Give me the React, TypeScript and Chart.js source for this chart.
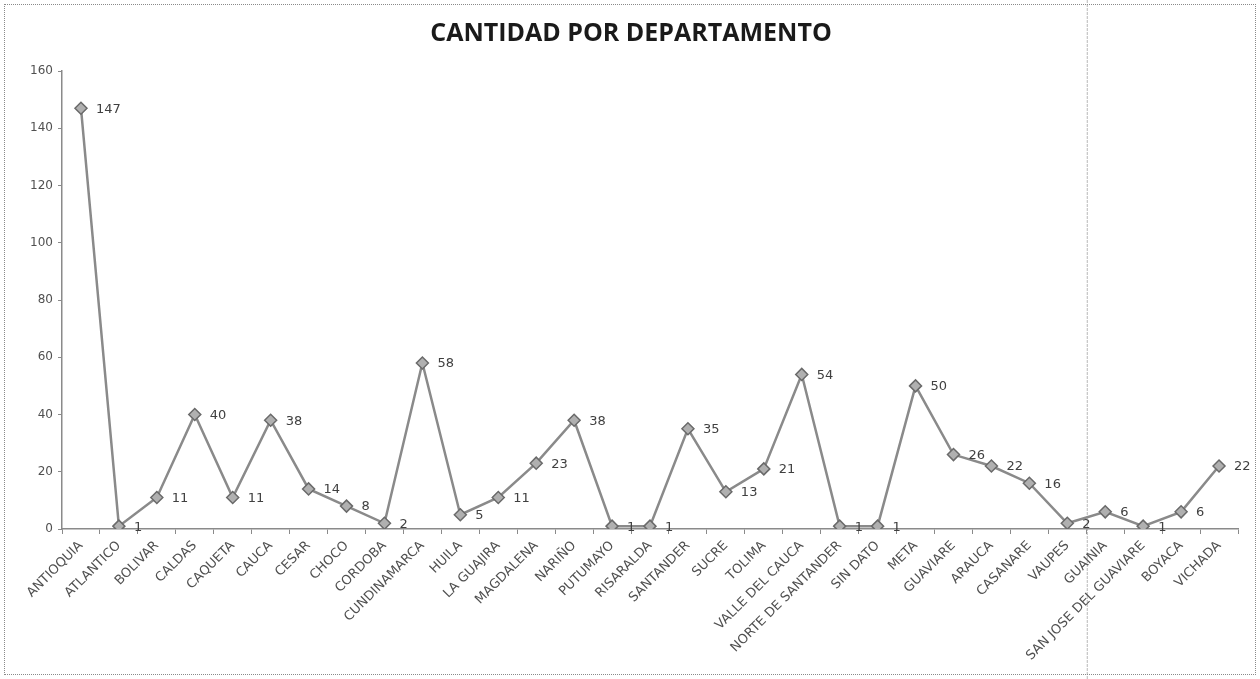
import React, { useEffect, useRef } from "react";
import { Chart, registerables } from "chart.js";

Chart.register(...registerables);

const categories = [
  "ANTIOQUIA", "ATLANTICO", "BOLIVAR", "CALDAS", "CAQUETA", "CAUCA", "CESAR", "CHOCO",
  "CORDOBA", "CUNDINAMARCA", "HUILA", "LA GUAJIRA", "MAGDALENA", "NARIÑO", "PUTUMAYO",
  "RISARALDA", "SANTANDER", "SUCRE", "TOLIMA", "VALLE DEL CAUCA", "NORTE DE SANTANDER",
  "SIN DATO", "META", "GUAVIARE", "ARAUCA", "CASANARE", "VAUPES", "GUAINIA",
  "SAN JOSE DEL GUAVIARE", "BOYACA", "VICHADA",
];
const values = [
  147, 1, 11, 40, 11, 38, 14, 8, 2, 58, 5, 11, 23, 38, 1, 1, 35, 13, 21, 54, 1, 1, 50, 26,
  22, 16, 2, 6, 1, 6, 22,
];
const yTicks = [0, 20, 40, 60, 80, 100, 120, 140, 160];
const titleText = "CANTIDAD POR DEPARTAMENTO";

const valueLabels = {
  id: "valueLabels",
  afterDatasetsDraw(chart: any) {
    const ctx = chart.ctx;
    const meta = chart.getDatasetMeta(0);
    ctx.save();
    ctx.font = "13px 'DejaVu Sans'";
    ctx.fillStyle = "#404040";
    ctx.textAlign = "left";
    ctx.textBaseline = "middle";
    meta.data.forEach((pt: any, i: number) => {
      ctx.fillText(String(values[i]), pt.x + 15, pt.y + 1);
    });
    ctx.restore();
  },
};

const scanLine = {
  id: "scanLine",
  beforeDraw(chart: any) {
    const x = chart.scales.x;
    const px = (x.getPixelForValue(26) + x.getPixelForValue(27)) / 2 + 1;
    const ctx = chart.ctx;
    ctx.save();
    ctx.strokeStyle = "#b8b8b8";
    ctx.lineWidth = 1;
    ctx.setLineDash([3, 1]);
    ctx.beginPath();
    ctx.moveTo(px, 0);
    ctx.lineTo(px, chart.height);
    ctx.stroke();
    ctx.restore();
  },
};

export default function App() {
  const ref = useRef<HTMLCanvasElement>(null);
  useEffect(() => {
    if (!ref.current) return;
    const chart = new Chart(ref.current, {
      type: "line",
      data: {
        labels: categories,
        datasets: [
          {
            data: values,
            borderColor: "#8a8a8a",
            borderWidth: 2.5,
            pointStyle: "rectRot",
            pointRadius: 6,
            pointBackgroundColor: "#b0b0b0",
            pointBorderColor: "#6a6a6a",
            pointBorderWidth: 1.5,
            tension: 0,
          },
        ],
      },
      options: {
        animation: false,
        responsive: false,
        layout: { padding: { left: 24, right: 22, top: 0, bottom: 0 } },
        plugins: {
          legend: { display: false },
          tooltip: { enabled: false },
          title: {
            display: true,
            text: titleText,
            color: "#1a1a1a",
            font: { family: "'Open Sans'", size: 25, weight: "bold" },
            padding: { top: 19, bottom: 22 },
          },
        },
        scales: {
          x: {
            offset: true,
            grid: {
              display: true,
              drawOnChartArea: false,
              drawTicks: true,
              tickLength: 5,
              color: "#8a8a8a",
              offset: true,
            },
            border: { display: true, color: "#8a8a8a", width: 1.5 },
            ticks: {
              autoSkip: false,
              maxRotation: 45,
              minRotation: 45,
              color: "#505050",
              font: { family: "'DejaVu Sans'", size: 13 },
              padding: 4,
            },
            afterFit(scale: any) {
              scale.height = 150;
            },
          },
          y: {
            min: 0,
            max: 160,
            afterBuildTicks(scale: any) {
              scale.ticks = yTicks.map((v) => ({ value: v }));
            },
            grid: {
              display: true,
              drawOnChartArea: false,
              drawTicks: true,
              tickLength: 4,
              color: "#8a8a8a",
            },
            border: { display: true, color: "#8a8a8a", width: 1.5 },
            ticks: {
              color: "#505050",
              font: { family: "'DejaVu Sans'", size: 12 },
              padding: 5,
            },
            afterFit(scale: any) {
              scale.width = 38;
            },
          },
        },
      },
      plugins: [valueLabels, scanLine],
    });
    return () => chart.destroy();
  }, []);
  return (
    <div style={{ position: "fixed", left: 0, top: 0, width: 1260, height: 679, background: "#fff" }}>
      <canvas ref={ref} width={1260} height={679} style={{ position: "absolute", left: 0, top: 0 }} />
      <div
        style={{
          position: "absolute",
          left: 4,
          top: 4,
          right: 4,
          bottom: 4,
          border: "1px dotted #8a8a8a",
          pointerEvents: "none",
        }}
      />
    </div>
  );
}
